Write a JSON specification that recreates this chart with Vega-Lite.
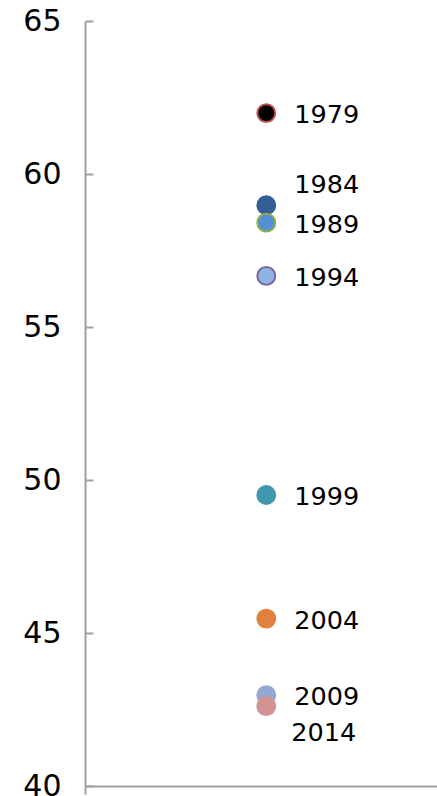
{
  "$schema": "https://vega.github.io/schema/vega-lite/v6.json",
  "width": 352,
  "height": 765,
  "autosize": {"type": "none"},
  "padding": {"left": 85, "top": 21, "right": 0, "bottom": 10},
  "background": "white",
  "config": {"view": {"stroke": null}, "font": "DejaVu Sans"},
  "data": {
    "values": [
      {"year": "1979", "turnout": 61.99, "fill": "#000000", "stroke": "#c0504d"},
      {"year": "1984", "turnout": 58.98, "fill": "#345f96", "stroke": "#345f96"},
      {"year": "1989", "turnout": 58.41, "fill": "#558ed5", "stroke": "#8cb04a"},
      {"year": "1994", "turnout": 56.67, "fill": "#8eb4e3", "stroke": "#8064a2"},
      {"year": "1999", "turnout": 49.51, "fill": "#4198af", "stroke": "#4198af"},
      {"year": "2004", "turnout": 45.47, "fill": "#e0823d", "stroke": "#e0823d"},
      {"year": "2009", "turnout": 42.97, "fill": "#93a9d2", "stroke": "#93a9d2"},
      {"year": "2014", "turnout": 42.61, "fill": "#d49393", "stroke": "#d49393"}
    ]
  },
  "encoding": {
    "x": {
      "datum": 1.03,
      "type": "quantitative",
      "scale": {"domain": [0, 2], "nice": false, "zero": false},
      "axis": {
        "title": null,
        "labels": false,
        "values": [0],
        "tickSize": 8,
        "tickColor": "#a0a0a0",
        "tickWidth": 2,
        "domainColor": "#a0a0a0",
        "domainWidth": 2,
        "grid": false
      }
    },
    "y": {
      "field": "turnout",
      "type": "quantitative",
      "scale": {"domain": [40, 65], "nice": false, "zero": false},
      "axis": {
        "title": null,
        "values": [40, 45, 50, 55, 60, 65],
        "tickSize": -8,
        "tickColor": "#a0a0a0",
        "tickWidth": 2,
        "domainColor": "#a0a0a0",
        "domainWidth": 2,
        "grid": false,
        "labelFontSize": 30,
        "labelColor": "#000000",
        "labelPadding": 32,
        "labelFont": "DejaVu Sans"
      }
    }
  },
  "layer": [
    {
      "mark": {"type": "circle", "size": 320, "opacity": 1, "strokeWidth": 2},
      "encoding": {
        "fill": {"field": "fill", "type": "nominal", "scale": null},
        "stroke": {"field": "stroke", "type": "nominal", "scale": null},
        "order": {"field": "turnout", "type": "quantitative", "sort": "descending"}
      }
    },
    {
      "transform": [{"filter": "datum.year != '1984' && datum.year != '2014'"}],
      "mark": {"type": "text", "align": "left", "baseline": "middle", "dx": 28, "dy": 2, "fontSize": 25.5, "font": "DejaVu Sans", "color": "#000000"},
      "encoding": {"text": {"field": "year"}}
    },
    {
      "transform": [{"filter": "datum.year == '1984'"}],
      "mark": {"type": "text", "align": "left", "baseline": "middle", "dx": 28, "dy": -20, "fontSize": 25.5, "font": "DejaVu Sans", "color": "#000000"},
      "encoding": {"text": {"field": "year"}}
    },
    {
      "transform": [{"filter": "datum.year == '2014'"}],
      "mark": {"type": "text", "align": "left", "baseline": "middle", "dx": 25, "dy": 27, "fontSize": 25.5, "font": "DejaVu Sans", "color": "#000000"},
      "encoding": {"text": {"field": "year"}}
    }
  ]
}
